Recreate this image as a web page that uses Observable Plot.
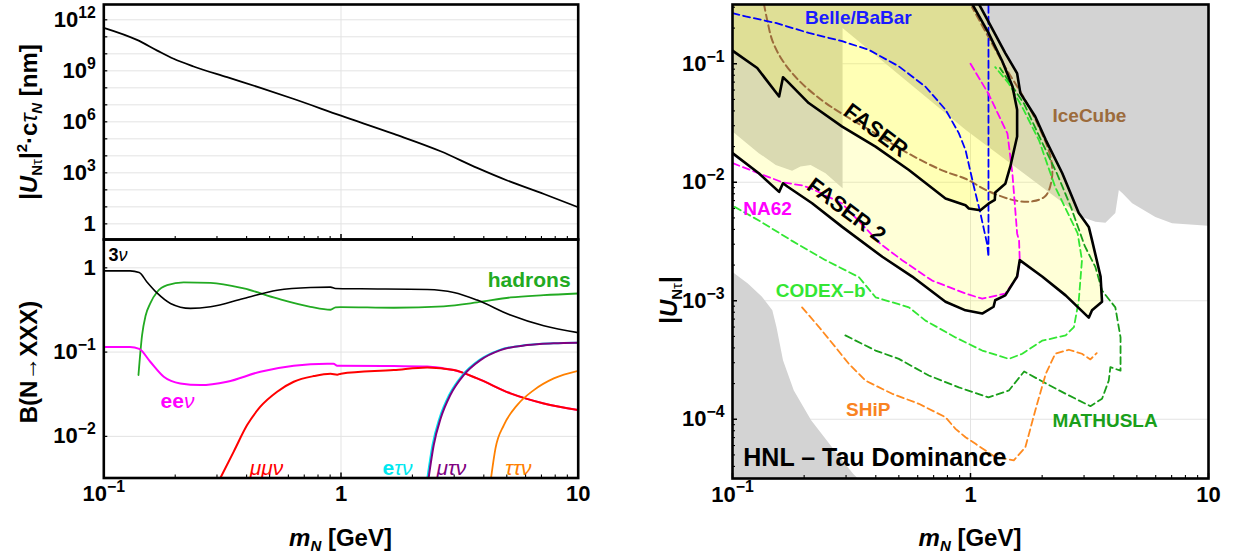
<!DOCTYPE html>
<html><head><meta charset="utf-8">
<script src="https://cdn.jsdelivr.net/npm/d3@7"></script>
<script src="https://cdn.jsdelivr.net/npm/@observablehq/plot@0.6"></script>
<style>
body{margin:0;background:#fff;}
#wrap{position:relative;width:1237px;height:556px;overflow:hidden;background:#fff;}
#wrap svg{position:absolute;overflow:visible;}
</style></head><body><div id="wrap"></div>
<script>
const FONT = "'Liberation Sans', Arial, Helvetica, sans-serif";

// ---------- shared axis values ----------
const massDomain = [0.1, 10];
const massMajor = [0.1, 1, 10];
const massMinor = [0.2,0.3,0.4,0.5,0.6,0.7,0.8,0.9,2,3,4,5,6,7,8,9];
const massTickLabels = [[0.1,"10^{−1}"],[1,"1"],[10,"10"]];

// ---------- top-left: |U|^2 c tau [nm] ----------
const lifetimeTicks = [1,1e1,1e2,1e3,1e4,1e5,1e6,1e7,1e8,1e9,1e10,1e11,1e12];
const lifetimeTickLabels = [[1,"1"],[1e3,"10^{3}"],[1e6,"10^{6}"],[1e9,"10^{9}"],[1e12,"10^{12}"]];
const lifetime = [[0.1,3.4e11],[0.138,6.6e10],[0.168,1.55e10],[0.197,5.1e9],[0.239,1.8e9],[0.331,4.2e8],[0.458,1.0e8],[0.633,2.2e7],[1.0,2.3e6],[1.67,1.95e5],[2.63,1.86e4],[3.75,1950],[5.02,355],[7.17,57],[10,9.5]];

// ---------- bottom-left: branching ratios ----------
const brTicks = [0.01, 0.1, 1];
const brTickLabels = [[0.01,"10^{−2}"],[0.1,"10^{−1}"],[1,"1"]];
const br3nu = [[0.1,0.92],[0.129,0.92],[0.141,0.88],[0.152,0.68],[0.168,0.50],[0.191,0.378],[0.232,0.33],[0.282,0.345],[0.389,0.433],[0.538,0.543],[0.743,0.585],[0.903,0.59],[0.948,0.569],[1.21,0.564],[2.31,0.553],[2.99,0.51],[3.75,0.414],[5.18,0.275],[7.16,0.205],[10,0.17]];
const brHadrons = [[0.140,0.0534],[0.145,0.159],[0.150,0.27],[0.157,0.378],[0.168,0.52],[0.185,0.623],[0.217,0.67],[0.282,0.664],[0.389,0.569],[0.538,0.433],[0.743,0.345],[0.903,0.318],[0.948,0.339],[0.995,0.342],[1.67,0.336],[2.71,0.349],[3.75,0.388],[5.18,0.445],[7.16,0.474],[10,0.496]];
const brEE = [[0.1,0.115],[0.129,0.115],[0.141,0.109],[0.157,0.0768],[0.179,0.051],[0.210,0.0425],[0.256,0.0406],[0.331,0.0445],[0.457,0.0585],[0.632,0.0689],[0.875,0.0727],[0.93,0.0727],[0.964,0.0689],[1.67,0.0682],[2.31,0.0676],[2.71,0.064],[2.99,0.0612],[3.75,0.0487],[5.18,0.0324],[7.16,0.0246],[10,0.0205]];
const brMuMu = [[0.310,0.0032],[0.353,0.0066],[0.402,0.0136],[0.457,0.0225],[0.538,0.0339],[0.632,0.0445],[0.768,0.0519],[0.903,0.0553],[0.964,0.054],[1.0,0.0555],[1.67,0.0612],[2.31,0.0658],[2.99,0.0612],[3.75,0.0487],[5.18,0.0324],[7.16,0.0246],[10,0.0205]];
const brETau = [[2.34,0.0032],[2.46,0.0079],[2.63,0.0163],[2.89,0.031],[3.29,0.0534],[3.87,0.0804],[4.70,0.1056],[6.09,0.121],[7.89,0.127],[10,0.129]];
const brMuTau = [[2.34,0.0032],[2.46,0.0079],[2.63,0.0163],[2.89,0.031],[3.29,0.0534],[3.87,0.0804],[4.70,0.1056],[6.09,0.121],[7.89,0.127],[10,0.129]];
const brTauTau = [[4.29,0.0032],[4.48,0.0072],[4.86,0.0136],[5.53,0.0235],[6.50,0.0354],[7.89,0.0487],[10,0.060]];
const brLabels = [
  {t:"3*{ν}", m:0.1047, v:1.41, c:"#000000", a:"start", s:18},
  {t:"hadrons", m:9.29, v:0.713, c:"#22aa22", a:"end", s:21},
  {t:"ee*{ν}", m:0.2045, v:0.026, c:"#ff00ff", a:"middle", s:21},
  {t:"*{μμν}", m:0.485, v:0.00416, c:"#ff0000", a:"middle", s:21},
  {t:"e*{τν}", m:1.73, v:0.00416, c:"#00e8f0", a:"middle", s:21},
  {t:"*{μτν}", m:2.92, v:0.00416, c:"#800080", a:"middle", s:21},
  {t:"*{ττν}", m:5.6, v:0.00416, c:"#ff8000", a:"middle", s:21}
];

// ---------- right: |U_Ntau| sensitivity ----------
const uMajor = [1e-4,1e-3,1e-2,1e-1];
const uTickLabels = [[1e-4,"10^{−4}"],[1e-3,"10^{−3}"],[1e-2,"10^{−2}"],[1e-1,"10^{−1}"]];
const uMinor = [4e-5,5e-5,6e-5,7e-5,8e-5,9e-5,2e-4,3e-4,4e-4,5e-4,6e-4,7e-4,8e-4,9e-4,2e-3,3e-3,4e-3,5e-3,6e-3,7e-3,8e-3,9e-3,2e-2,3e-2,4e-2,5e-2,6e-2,7e-2,8e-2,9e-2,0.2,0.3];
const grayExcluded = [[0.1,0.32],[0.1,0.0268],[0.129,0.0176],[0.152,0.014],[0.178,0.0125],[0.193,0.0136],[0.213,0.014],[0.246,0.0119],[0.29,0.0089],[0.29,0.2],[0.953,0.0277],[2.94,0.0051],[3.35,0.00464],[3.69,0.00456],[4.06,0.0055],[4.20,0.0086],[4.34,0.0081],[4.78,0.00664],[5.98,0.0051],[7.03,0.0045],[10,0.0043],[10,0.32]];
const grayBBN = [[0.1,0.00175],[0.116,0.0014],[0.133,0.00108],[0.147,0.00083],[0.153,0.0006],[0.163,0.000315],[0.181,0.000175],[0.214,9.8e-5],[0.262,5.8e-5],[0.321,3.47e-5],[0.34,3.1e-5],[0.1,3.1e-5]];
const faser = [[0.1,0.129],[0.127,0.092],[0.157,0.053],[0.163,0.077],[0.170,0.071],[0.209,0.0466],[0.289,0.0295],[0.399,0.020],[0.551,0.0127],[0.785,0.0073],[0.953,0.0064],[0.984,0.006],[1.10,0.0058],[1.19,0.0066],[1.265,0.0071],[1.27,0.0082],[1.40,0.0097],[1.47,0.0136],[1.57,0.0243],[1.57,0.041],[1.50,0.0645],[1.36,0.105],[1.19,0.182],[1.016,0.32]];
const faser2 = [[0.1,0.0176],[0.129,0.0119],[0.157,0.0083],[0.163,0.0098],[0.170,0.0092],[0.216,0.00665],[0.289,0.0042],[0.426,0.00235],[0.569,0.0016],[0.785,0.00098],[0.953,0.00083],[1.12,0.00078],[1.25,0.00089],[1.27,0.00101],[1.40,0.00111],[1.57,0.0016],[1.61,0.0022],[2.00,0.0016],[2.51,0.00111],[3.14,0.00072],[3.24,0.00083],[3.57,0.00098],[3.52,0.0016],[3.24,0.00325],[3.14,0.0042],[2.85,0.0055],[2.43,0.0119],[2.07,0.0228],[1.87,0.0359],[1.62,0.0565],[1.57,0.083],[1.40,0.123],[1.23,0.2],[1.084,0.32]];
const belle = [[0.1,0.268],[0.1135,0.251],[0.152,0.221],[0.209,0.182],[0.289,0.155],[0.374,0.131],[0.5,0.095],[0.647,0.064],[0.785,0.041],[0.893,0.026],[0.953,0.0187],[1.033,0.0092],[1.10,0.0055],[1.175,0.003],[1.19,0.00235],[1.19,0.32]];
const iceCube = [[0.1355,0.32],[0.14,0.232],[0.147,0.157],[0.162,0.107],[0.19,0.0723],[0.238,0.049],[0.289,0.0378],[0.399,0.0257],[0.551,0.0174],[0.76,0.0126],[0.953,0.0107],[1.19,0.0084],[1.55,0.0070],[1.82,0.0069],[2.07,0.0077],[2.20,0.011],[2.17,0.0163],[1.94,0.0292],[1.67,0.0523],[1.40,0.0936],[1.19,0.168],[1.016,0.30]];
const na62 = [[1.0,0.1],[1.19,0.0558],[1.43,0.0257],[1.50,0.0118],[1.57,0.0037],[1.60,0.0032],[1.61,0.0022],[1.57,0.00158],[1.40,0.00115],[1.12,0.00104],[0.953,0.00115],[0.69,0.00148],[0.516,0.0022],[0.42,0.003],[0.289,0.0066],[0.216,0.0088],[0.196,0.0094],[0.162,0.01],[0.129,0.0119],[0.1,0.0145]];
const codexB = [[0.102,0.0062],[0.129,0.00476],[0.178,0.0032],[0.246,0.0022],[0.34,0.00158],[0.399,0.00107],[0.551,0.00088],[0.647,0.00068],[0.865,0.00049],[1.12,0.00038],[1.45,0.000323],[1.65,0.000357],[2.0,0.00046],[2.51,0.00051],[2.72,0.0006],[2.85,0.001],[2.94,0.0022],[2.82,0.0037],[2.27,0.0091],[1.94,0.0226],[1.65,0.043],[1.45,0.0678],[1.27,0.0936]];
const mathusla = [[0.298,0.00051],[0.399,0.00038],[0.50,0.000323],[0.668,0.000234],[0.893,0.000186],[1.19,0.000153],[1.45,0.000175],[1.68,0.000253],[2.07,0.000201],[2.51,0.000164],[3.19,0.000129],[3.57,0.000149],[3.81,0.000212],[3.87,0.000275],[4.27,0.000257],[4.27,0.00049],[4.06,0.00088],[3.57,0.00122],[3.35,0.00192],[3.02,0.0029],[2.64,0.0062],[2.31,0.0118],[1.98,0.0226],[1.68,0.0459],[1.33,0.092]];
const ship = [[0.196,0.00088],[0.231,0.0006],[0.271,0.000405],[0.308,0.000294],[0.362,0.000212],[0.469,0.000164],[0.607,0.000135],[0.785,0.000104],[0.865,8.3e-5],[0.953,7.05e-5],[1.05,6.2e-5],[1.27,4.8e-5],[1.52,4.5e-5],[1.70,5.8e-5],[1.87,0.000118],[2.07,0.000241],[2.27,0.000357],[2.59,0.000386],[2.94,0.000357],[3.19,0.00032],[3.39,0.000361]];
const expLabels = [
  {t:"Belle/BaBar", m:0.338, u:0.246, c:"#1a1aff", a:"middle", s:19},
  {t:"IceCube", m:3.16, u:0.0365, c:"#9c6b3c", a:"middle", s:19},
  {t:"NA62", m:0.111, u:0.006, c:"#ff00ff", a:"start", s:19},
  {t:"CODEX–b", m:0.152, u:0.00122, c:"#33e633", a:"start", s:19},
  {t:"SHiP", m:0.372, u:0.000119, c:"#f98322", a:"middle", s:19},
  {t:"MATHUSLA", m:2.21, u:9.6e-5, c:"#1a9f1a", a:"start", s:19},
  {t:"FASER", m:0.40, u:0.0274, c:"#000000", a:"middle", s:22, r:37},
  {t:"FASER 2", m:0.301, u:0.00578, c:"#000000", a:"middle", s:22, r:37},
  {t:"HNL – Tau Dominance", m:0.111, u:4.67e-5, c:"#000000", a:"start", s:25}
];

// ---------- helpers ----------
const GRID = "#e3e3e3";
const TICKFS = 22;
const X = d => d[0], Y = d => d[1];
const ticksX = (vals, len, innerH, sw) => Plot.tickX(vals, {x: d => d, insetTop: innerH - len, stroke: "black", strokeWidth: sw});
const ticksY = (vals, len, innerW, sw) => Plot.tickY(vals, {y: d => d, insetRight: innerW - len, stroke: "black", strokeWidth: sw});
const yLabelsVal = (arr) => Plot.text(arr, {y: X, text: Y, frameAnchor: "left", dx: -8, textAnchor: "end", fontSize: TICKFS, fontWeight: "bold", fill: "black"});
const xLabels = (arr) => Plot.text(arr, {x: X, text: Y, frameAnchor: "bottom", dy: 23, fontSize: TICKFS, fontWeight: "bold", fill: "black"});
const frame = () => Plot.frame({stroke: "black", strokeWidth: 2.6});
const baseStyle = {fontFamily: FONT, fontSize: "21px", overflow: "visible", background: "transparent", color: "black"};

const wrap = document.getElementById("wrap");
function place(el, left, top) { el.style.position = "absolute"; el.style.left = left + "px"; el.style.top = top + "px"; el.style.maxWidth = "none"; wrap.appendChild(el); return el; }

// top-left
const innerWA = 600 - 103.3 - 22.3, innerHA = 240 - 4 - 1;
const plotA = Plot.plot({
  width: 600, height: 240, marginLeft: 103.3, marginRight: 22.3, marginTop: 4, marginBottom: 1,
  x: {type: "log", domain: massDomain, axis: null},
  y: {type: "log", domain: [10 ** -0.92, 10 ** 12.9], axis: null},
  style: baseStyle,
  marks: [
    Plot.ruleY(lifetimeTicks, {y: d => d, stroke: GRID, strokeWidth: 1}),
    Plot.ruleX([1], {x: d => d, stroke: GRID, strokeWidth: 1}),
    Plot.line(lifetime, {x: X, y: Y, stroke: "black", strokeWidth: 1.8, curve: "monotone-x"}),
    ticksX(massMinor, 3, innerHA, 1.1),
    ticksX(massMajor, 5, innerHA, 1.5),
    ticksY(lifetimeTicks, 4, innerWA, 1.2),
    yLabelsVal(lifetimeTickLabels),
    frame()
  ]
});
place(plotA, 0, 0);

// bottom-left
const innerHB = 317 - 0 - 78.5;
const plotB = Plot.plot({
  width: 600, height: 317, marginLeft: 103.3, marginRight: 22.3, marginTop: 0, marginBottom: 78.5,
  x: {type: "log", domain: massDomain, axis: null},
  y: {type: "log", domain: [10 ** -2.494, 10 ** 0.336], axis: null},
  style: baseStyle,
  marks: [
    Plot.ruleY(brTicks, {y: d => d, stroke: GRID, strokeWidth: 1}),
    Plot.ruleX([1], {x: d => d, stroke: GRID, strokeWidth: 1}),
    Plot.line(brHadrons, {x: X, y: Y, stroke: "#22aa22", strokeWidth: 1.8, curve: "monotone-x", clip: true}),
    Plot.line(brEE, {x: X, y: Y, stroke: "#ff00ff", strokeWidth: 2, curve: "monotone-x", clip: true}),
    Plot.line(brMuMu, {x: X, y: Y, stroke: "#ff0000", strokeWidth: 2, curve: "monotone-x", clip: true}),
    Plot.line(brETau, {x: X, y: Y, dx: -1.2, stroke: "#00e8f0", strokeWidth: 2, curve: "monotone-x", clip: true}),
    Plot.line(brMuTau, {x: X, y: Y, stroke: "#800080", strokeWidth: 2, curve: "monotone-x", clip: true}),
    Plot.line(brTauTau, {x: X, y: Y, stroke: "#ff8000", strokeWidth: 1.8, curve: "monotone-x", clip: true}),
    Plot.line(br3nu, {x: X, y: Y, stroke: "black", strokeWidth: 1.6, curve: "monotone-x", clip: true}),
    ...brLabels.map(l => Plot.text([l], {x: d => d.m, y: d => d.v, text: d => d.t, fill: l.c, textAnchor: l.a, fontSize: l.s, fontWeight: "bold"})),
    ticksX(massMinor, 3, innerHB, 1.1),
    ticksX(massMajor, 5, innerHB, 1.5),
    ticksY(brTicks, 4, 600 - 103.3 - 22.3, 1.2),
    yLabelsVal(brTickLabels),
    xLabels(massTickLabels),
    frame()
  ]
});
place(plotB, 0, 239);

// right
const innerWC = 617 - 112 - 29, innerHC = 556 - 4 - 78;
const dash = "7,4";
const plotC = Plot.plot({
  width: 617, height: 556, marginLeft: 112, marginRight: 29, marginTop: 4, marginBottom: 78,
  x: {type: "log", domain: massDomain, axis: null},
  y: {type: "log", domain: [10 ** -4.5, 10 ** -0.5], axis: null},
  style: baseStyle,
  marks: [
    Plot.ruleY(uMajor, {y: d => d, stroke: GRID, strokeWidth: 1}),
    Plot.ruleX([1], {x: d => d, stroke: GRID, strokeWidth: 1}),
    Plot.line(grayExcluded, {x: X, y: Y, fill: "#d3d3d3", stroke: "none", clip: true}),
    Plot.line(grayBBN, {x: X, y: Y, fill: "#d3d3d3", stroke: "none", clip: true}),
    Plot.line([...faser2, [0.1, 0.32]], {x: X, y: Y, fill: "#ffff00", fillOpacity: 0.155, stroke: "none", clip: true}),
    Plot.line([...faser, [0.1, 0.32]], {x: X, y: Y, fill: "#ffff00", fillOpacity: 0.155, stroke: "none", clip: true}),
    Plot.line(iceCube, {x: X, y: Y, stroke: "#9c6b3c", strokeWidth: 2, strokeDasharray: dash, curve: "catmull-rom", clip: true}),
    Plot.line(belle, {x: X, y: Y, stroke: "#0000ff", strokeWidth: 1.8, strokeDasharray: dash, clip: true}),
    Plot.line(na62, {x: X, y: Y, stroke: "#ff00ff", strokeWidth: 1.8, strokeDasharray: dash, clip: true}),
    Plot.line(mathusla, {x: X, y: Y, stroke: "#1a9f1a", strokeWidth: 1.8, strokeDasharray: dash, clip: true}),
    Plot.line(codexB, {x: X, y: Y, stroke: "#33e633", strokeWidth: 1.8, strokeDasharray: dash, clip: true}),
    Plot.line(ship, {x: X, y: Y, stroke: "#ff8a1f", strokeWidth: 1.8, strokeDasharray: dash, clip: true}),
    Plot.line(faser2, {x: X, y: Y, stroke: "black", strokeWidth: 2.6, clip: true}),
    Plot.line(faser, {x: X, y: Y, stroke: "black", strokeWidth: 2.6, clip: true}),
    ...expLabels.map(l => Plot.text([l], {x: d => d.m, y: d => d.u, text: d => d.t, fill: l.c, textAnchor: l.a, fontSize: l.s, fontWeight: "bold", rotate: l.r || 0})),
    ticksX(massMinor, 3, innerHC, 1.1),
    ticksX(massMajor, 5, innerHC, 1.5),
    ticksY(uMinor, 3, innerWC, 1.1),
    ticksY(uMajor, 5, innerWC, 1.5),
    yLabelsVal(uTickLabels),
    xLabels(massTickLabels),
    frame()
  ]
});
place(plotC, 620, 0);

// rich text: ^{sup}, *{italic light}
function rich(root) {
  root.querySelectorAll("text").forEach(t => {
    if (t.querySelector("tspan")) return;
    const s = t.textContent;
    if (!/[\^*]\{/.test(s)) return;
    const fs = parseFloat(getComputedStyle(t).fontSize) || 21;
    t.textContent = "";
    let i = 0, shift = 0;
    const mk = (txt) => { const e = document.createElementNS("http://www.w3.org/2000/svg", "tspan"); e.textContent = txt; t.appendChild(e); return e; };
    while (i < s.length) {
      if ((s[i] === "^" || s[i] === "*") && s[i + 1] === "{") {
        const j = s.indexOf("}", i);
        const e = mk(s.slice(i + 2, j));
        if (s[i] === "^") { e.setAttribute("font-size", (0.72 * fs).toFixed(1)); const d = -0.42 * fs; e.setAttribute("dy", (d - shift).toFixed(1)); shift = d; }
        else { e.setAttribute("font-style", "italic"); e.setAttribute("font-weight", "normal"); if (shift) { e.setAttribute("dy", (-shift).toFixed(1)); shift = 0; } }
        i = j + 1;
      } else {
        let j = i; while (j < s.length && !((s[j] === "^" || s[j] === "*") && s[j + 1] === "{")) j++;
        const e = mk(s.slice(i, j));
        if (shift) { e.setAttribute("dy", (-shift).toFixed(1)); shift = 0; }
        i = j;
      }
    }
  });
}
[plotA, plotB, plotC].forEach(rich);

// axis titles
const ov = d3.select(wrap).append("svg").attr("width", 1237).attr("height", 556).style("left", "0px").style("top", "0px")
  .attr("font-family", FONT).attr("font-weight", "bold").attr("fill", "black");
function title(x, y, rot, parts, size) {
  const t = ov.append("text").attr("transform", `translate(${x},${y}) rotate(${rot})`).attr("text-anchor", "middle").attr("font-size", size);
  parts.forEach(p => { const o = p[1] || {}; const s = t.append("tspan").text(p[0]);
    if (o.i) s.attr("font-style", "italic"); if (o.n) s.attr("font-weight", "normal"); if (o.s) s.attr("font-size", o.s); if (o.dy) s.attr("dy", o.dy); });
}
title(37, 122, -90, [["|"],["U",{i:1}],["N",{s:15,dy:5}],["τ",{s:15,n:1}],["|",{dy:-5}],["2",{s:15,dy:-10}],["·c",{dy:10}],["τ",{i:1,n:1}],["N",{i:1,s:15,dy:5}],[" [nm]",{dy:-5}]], 24);
title(37, 362, -90, [["B(N→XXX)"]], 24);
title(340.5, 546, 0, [["m",{i:1}],["N",{i:1,s:15,dy:5}],[" [GeV]",{dy:-5}]], 24);
title(970, 546, 0, [["m",{i:1}],["N",{i:1,s:15,dy:5}],[" [GeV]",{dy:-5}]], 24);
title(677, 300, -90, [["|"],["U",{i:1}],["N",{s:15,dy:5}],["τ",{s:15,n:1}],["|",{dy:-5}]], 24);
</script></body></html>
